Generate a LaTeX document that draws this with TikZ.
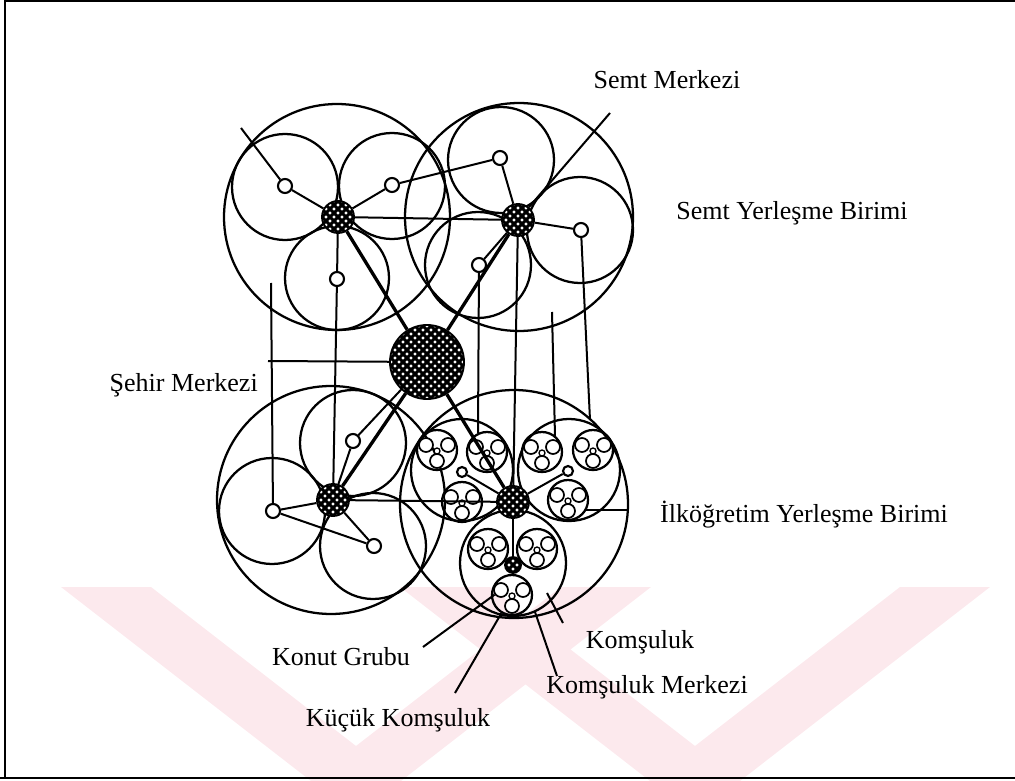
\documentclass[tikz,border=0pt]{standalone}
\usepackage{fontspec}
\setmainfont{Liberation Serif}
\usetikzlibrary{calc}
\definecolor{wmpink}{RGB}{252,233,237}
\tikzset{
  ln/.style={line width=1.5pt},
  thickln/.style={line width=2.5pt},
  ring/.style={circle, draw, line width=1.7pt, minimum size=#1*1.5pt, inner sep=0pt},
  sub/.style={circle, draw, fill=white, line width=1.6pt, minimum size=#1*1.5pt, inner sep=0pt},
  hatch/.style={circle, draw, line width=1.4pt, fill=white, minimum size=#1*1.5pt, inner sep=0pt,
    path picture={
      \foreach \k in {-10,...,10}{
        \draw[line width=2.3pt] ($(path picture bounding box.center)+(\k*6pt-45pt,-45pt)$) -- ++(90pt,90pt);
        \draw[line width=2.3pt] ($(path picture bounding box.center)+(\k*6pt-45pt,45pt)$) -- ++(90pt,-90pt);
      }}},
  house/.style={circle, draw, fill=white, line width=1.3pt, minimum size=10.5pt, inner sep=0pt,
    path picture={\fill (path picture bounding box.center) circle (1.6pt);}},
  lbl/.style={font=\fontsize{19.5}{22}\selectfont, inner sep=0pt},
}
\begin{document}
\begin{tikzpicture}[x=0.75pt,y=-0.75pt]
\useasboundingbox (0,0) rectangle (1015,781);
% watermark
\fill[wmpink] (61,587) -- (151,587) -- (356,746) -- (561,587) -- (651,587) -- (401,781) -- (311,781) -- cycle;
\fill[wmpink] (400,587) -- (490,587) -- (695,746) -- (900,587) -- (990,587) -- (740,781) -- (650,781) -- cycle;
% frame
\draw[line width=1.5pt] (5,778) -- (5,1.5) -- (1015,1.5);
\draw[line width=1.8pt] (0,778) -- (1015,778);
% semt units
\node[ring=113] (b1) at (337,217) {};
\node[ring=53] (p1a) at (285,187) {};
\node[ring=53] (p1b) at (392,186) {};
\node[ring=52] (p1c) at (337,278) {};
\node[ring=114] (b2) at (519,217) {};
\node[ring=53] (p2a) at (501,160) {};
\node[ring=53] (p2b) at (580,230) {};
\node[ring=53] (p2c) at (478,265) {};
\node[ring=114] (b3) at (331,500) {};
\node[ring=53] (p3a) at (353,443) {};
\node[ring=53] (p3b) at (272,511) {};
\node[ring=53] (p3c) at (373,546) {};
% ilkogretim unit
\node[ring=114] (b4) at (514,504) {};
\node[ring=51] (k1) at (462,470) {};
\node[ring=51] (k2) at (569,470) {};
\node[ring=53] (k3) at (513,563) {};
% centres
\node[hatch=16] (n1) at (338,217) {};
\node[hatch=16] (n2) at (518,220) {};
\node[hatch=16] (n3) at (333,500) {};
\node[hatch=16] (n4) at (513,502) {};
\node[hatch=37] (cc) at (427,362) {};
\node[sub=7] (s1a) at (285,186) {};
\node[sub=7] (s1b) at (392,185) {};
\node[sub=7] (s1c) at (337,279) {};
\node[sub=7] (s2a) at (500,158) {};
\node[sub=7] (s2b) at (581,230) {};
\node[sub=7] (s2c) at (479,265) {};
\node[sub=7] (s3a) at (353,441) {};
\node[sub=7] (s3b) at (273,511) {};
\node[sub=7] (s3c) at (374,546) {};
\node[sub=5] (k1c) at (462,472) {};
\node[sub=5] (k2c) at (568,471) {};
\node[hatch=8] (k3c) at (513,565) {};
% small neighbourhoods with house groups
\foreach \nm/\x/\y in {a1/437/450, a2/487/452, a3/462/502, b1/542/452, b2/593/450, b3/568/500, c1/488/549, c2/537/549, c3/512/595}{
  \node[ring=20] (kk\nm) at (\x,\y) {};
  \node[house] (h\nm1) at (\x-11,\y-5) {};
  \node[house] (h\nm2) at (\x+11,\y-5) {};
  \node[house] (h\nm3) at (\x,\y+11) {};
  \node[sub=3, line width=1pt] (kc\nm) at (\x,\y+1) {};
}
% connectors
\coordinate (tl) at (241,128);
\draw[ln] (tl) -- (s1a);
\draw[ln] (s1a) -- (n1);
\draw[ln] (s1b) -- (n1);
\draw[ln] (n1) -- (s1c);
\draw[ln] (s1c) -- (n3);
\draw[ln] (n1) -- (n2);
\draw[ln] (s1b) -- (s2a);
\draw[thickln] (n1) -- (cc);
\draw[thickln] (n2) -- (cc);
\draw[thickln] (n3) -- (cc);
\draw[thickln] (n4) -- (cc);
\draw[ln] (s3a) -- (cc);
\draw[ln] (n2) -- (s2a);
\draw[ln] (n2) -- (s2b);
\draw[ln] (n2) -- (s2c);
\coordinate (smA) at (610,113);
\draw[ln] (n2) -- (smA);
\coordinate (shA) at (268,361);
\draw[ln] (shA) -- (cc);
\coordinate (vA) at (271,283);
\draw[ln] (vA) -- (s3b);
\draw[ln] (s3b) -- (n3);
\draw[ln] (s3a) -- (n3);
\draw[ln] (s3c) -- (n3);
\draw[ln] (s3b) -- (s3c);
\draw[ln] (n3) -- (n4);
\coordinate (vB) at (478,433);
\draw[ln] (s2c) -- (vB);
\draw[ln] (n2) -- (n4);
\coordinate (vC1) at (552,312);
\coordinate (vC2) at (555,436);
\draw[ln] (vC1) -- (vC2);
\coordinate (vD) at (590,420);
\draw[ln] (s2b) -- (vD);
\coordinate (hA) at (586,510);
\coordinate (hB) at (628,510);
\draw[ln] (hA) -- (hB);
\draw[ln] (k1c) -- (n4);
\draw[ln] (k2c) -- (n4);
\draw[ln] (k3c) -- (n4);
% labels
\node[lbl] (semtm) at (667,80) {Semt Merkezi};
\node[lbl] (semty) at (792,213) {Semt Yerleşme Birimi};
\node[lbl, anchor=east] (sehir) at (258,385) {Şehir Merkezi};
\node[lbl] (ilk) at (804,515) {İlköğretim Yerleşme Birimi};
\node[lbl] (konut) at (341,657) {Konut Grubu};
\node[lbl] (kom) at (640,642) {Komşuluk};
\node[lbl] (komm) at (647,687) {Komşuluk Merkezi};
\node[lbl] (kucuk) at (398,720) {Küçük Komşuluk};
% leaders
\coordinate (kgA) at (423,647);
\draw[ln] (kgA) -- (hc31);
\coordinate (kkA) at (455,693);
\draw[ln] (kkA) -- (kkc3);
\coordinate (kmA) at (557,676);
\coordinate (kmB) at (535,612);
\draw[ln] (kmA) -- (kmB);
\coordinate (koA) at (547,593);
\coordinate (koB) at (563,623);
\draw[ln] (koA) -- (koB);
\end{tikzpicture}
\end{document}
